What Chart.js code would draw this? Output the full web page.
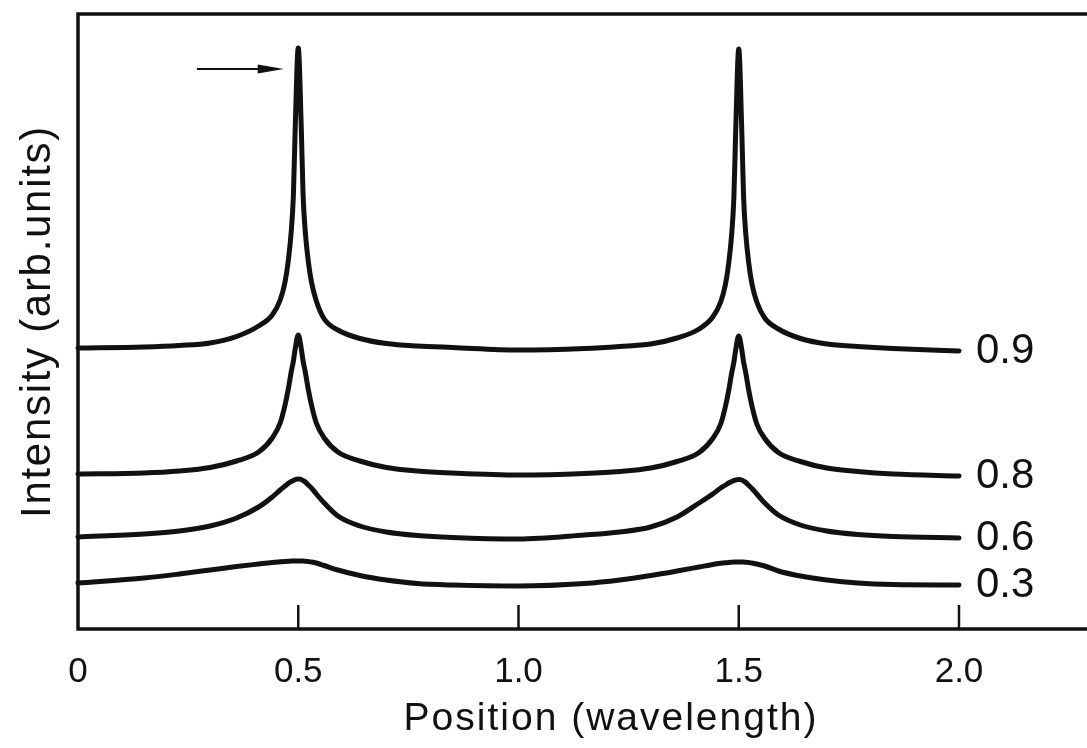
<!DOCTYPE html>
<html>
<head>
<meta charset="utf-8">
<script src="https://cdn.jsdelivr.net/npm/chart.js@4.4.1/dist/chart.umd.min.js"></script>
<style>
  html, body { margin: 0; padding: 0; background: #fff; }
  #chart-1 { display: block; }
</style>
</head>
<body>
<canvas id="chart-1" width="1087" height="748"></canvas>
<script>
// position along the cavity, in wavelengths (dense near the two resonances)
const positions = [
  0, 0.15, 0.23, 0.30, 0.36, 0.41, 0.441, 0.459, 0.47, 0.477, 0.484, 0.489, 0.493,
  0.5,
  0.507, 0.511, 0.516, 0.523, 0.53, 0.541, 0.559, 0.59, 0.64, 0.70, 0.77, 0.85,
  1.0,
  1.15, 1.23, 1.30, 1.36, 1.41, 1.441, 1.459, 1.47, 1.477, 1.484, 1.489, 1.493,
  1.5,
  1.507, 1.511, 1.516, 1.523, 1.53, 1.541, 1.559, 1.59, 1.64, 1.70, 1.77, 1.85,
  2.0
];

// intensity curves, stacked with an offset (arb. units)
const curve09 = [
  2.81, 2.82, 2.835, 2.86, 2.925, 3.03, 3.14, 3.29, 3.47, 3.67, 3.97, 4.34, 4.99,
  5.81,
  4.99, 4.34, 3.97, 3.67, 3.47, 3.28, 3.10, 2.99, 2.905, 2.855, 2.83, 2.815,
  2.79,
  2.805, 2.825, 2.85, 2.91, 3.00, 3.12, 3.27, 3.45, 3.65, 3.95, 4.32, 4.97,
  5.80,
  4.97, 4.32, 3.95, 3.65, 3.45, 3.27, 3.11, 3.00, 2.905, 2.85, 2.825, 2.805,
  2.78
];
const curve08 = [
  1.55, 1.56, 1.58, 1.615, 1.68, 1.77, 1.91, 2.06, 2.24, 2.39, 2.57, 2.68, 2.80,
  2.94,
  2.80, 2.68, 2.57, 2.39, 2.24, 2.06, 1.91, 1.77, 1.68, 1.615, 1.58, 1.56,
  1.54,
  1.555, 1.575, 1.61, 1.675, 1.765, 1.905, 2.05, 2.23, 2.38, 2.56, 2.67, 2.79,
  2.93,
  2.79, 2.67, 2.56, 2.38, 2.23, 2.05, 1.905, 1.765, 1.675, 1.61, 1.575, 1.55,
  1.53
];
const curve06 = [
  0.92, 0.95, 0.98, 1.03, 1.11, 1.22, 1.32, 1.39, 1.43, 1.455, 1.475, 1.485, 1.495,
  1.50,
  1.495, 1.485, 1.47, 1.44, 1.41, 1.35, 1.26, 1.13, 1.03, 0.97, 0.935, 0.915,
  0.90,
  0.94, 0.97, 1.02, 1.12, 1.26, 1.35, 1.41, 1.44, 1.46, 1.475, 1.485, 1.49,
  1.495,
  1.49, 1.48, 1.465, 1.435, 1.405, 1.35, 1.26, 1.14, 1.04, 0.98, 0.945, 0.925,
  0.91
];
const curve03 = [
  0.46, 0.51, 0.55, 0.59, 0.625, 0.65, 0.665, 0.672, 0.676, 0.678, 0.679, 0.68, 0.68,
  0.681,
  0.68, 0.679, 0.677, 0.674, 0.67, 0.66, 0.635, 0.59, 0.535, 0.49, 0.455, 0.44,
  0.43,
  0.455, 0.49, 0.535, 0.58, 0.62, 0.645, 0.657, 0.663, 0.666, 0.668, 0.67, 0.67,
  0.671,
  0.67, 0.669, 0.667, 0.664, 0.66, 0.65, 0.63, 0.58, 0.53, 0.49, 0.46, 0.445,
  0.44
];

const curveLabels = ['0.9', '0.8', '0.6', '0.3'];
const xTicks = [0, 0.5, 1.0, 1.5, 2.0];
const xTickLabels = ['0', '0.5', '1.0', '1.5', '2.0'];

const FONT = '"Liberation Sans", Arial, sans-serif';
const INK = '#111';

function toPoints(values) {
  return values.map((v, i) => ({ x: positions[i], y: v }));
}

// frame, inward ticks, axis texts, curve labels and the marker arrow
const framePlugin = {
  id: 'frame',
  afterDraw(chart) {
    const ctx = chart.ctx;
    const area = chart.chartArea;
    const xs = chart.scales.x;
    const ys = chart.scales.y;

    ctx.save();
    ctx.strokeStyle = INK;
    ctx.fillStyle = INK;
    ctx.lineCap = 'square';

    // box: left, top and bottom edges
    ctx.lineWidth = 3.5;
    ctx.beginPath();
    ctx.moveTo(area.right + 2, area.top);
    ctx.lineTo(area.left, area.top);
    ctx.lineTo(area.left, area.bottom);
    ctx.lineTo(area.right + 2, area.bottom);
    ctx.stroke();

    // tick marks pointing up into the plot
    ctx.lineWidth = 2.5;
    ctx.lineCap = 'butt';
    xTicks.forEach((t) => {
      if (t === 0) return;
      const px = xs.getPixelForValue(t);
      ctx.beginPath();
      ctx.moveTo(px, area.bottom);
      ctx.lineTo(px, area.bottom - 24);
      ctx.stroke();
    });

    // tick labels
    ctx.font = '35px ' + FONT;
    ctx.textAlign = 'center';
    ctx.textBaseline = 'alphabetic';
    xTicks.forEach((t, i) => {
      ctx.fillText(xTickLabels[i], xs.getPixelForValue(t), area.bottom + 53);
    });

    // x title
    ctx.font = '39px ' + FONT;
    ctx.letterSpacing = '2px';
    ctx.fillText('Position (wavelength)', 611, area.bottom + 101);

    // y title
    ctx.save();
    ctx.translate(50, (area.top + area.bottom) / 2);
    ctx.rotate(-Math.PI / 2);
    ctx.font = '42px ' + FONT;
    ctx.letterSpacing = '1.7px';
    ctx.textAlign = 'center';
    ctx.fillText('Intensity (arb.units)', 0, 0);
    ctx.restore();
    ctx.letterSpacing = '0px';

    // reflectivity label at the end of each curve
    ctx.font = '42px ' + FONT;
    ctx.textAlign = 'left';
    ctx.textBaseline = 'middle';
    chart.data.datasets.forEach((ds, i) => {
      const last = ds.data[ds.data.length - 1];
      const px = xs.getPixelForValue(last.x);
      const py = ys.getPixelForValue(last.y);
      ctx.fillText(curveLabels[i], px + 17, py);
    });

    // arrow pointing at the first 0.9 resonance
    const ax0 = xs.getPixelForValue(0.27);
    const ax1 = xs.getPixelForValue(0.467);
    const ay = ys.getPixelForValue(5.60);
    ctx.lineWidth = 2;
    ctx.beginPath();
    ctx.moveTo(ax0, ay);
    ctx.lineTo(ax1 - 20, ay);
    ctx.stroke();
    ctx.beginPath();
    ctx.moveTo(ax1, ay);
    ctx.lineTo(ax1 - 26, ay - 4.5);
    ctx.lineTo(ax1 - 26, ay + 4.5);
    ctx.closePath();
    ctx.fill();

    ctx.restore();
  }
};

function chartInit() {
  const ctx = document.getElementById('chart-1').getContext('2d');

  const lineStyle = {
    borderColor: INK,
    borderWidth: 5,
    pointRadius: 0,
    fill: false,
    cubicInterpolationMode: 'monotone',
    borderJoinStyle: 'round',
    borderCapStyle: 'round',
    clip: false,
  };

  const data = {
    datasets: [
      { ...lineStyle, label: curveLabels[0], data: toPoints(curve09) },
      { ...lineStyle, label: curveLabels[1], data: toPoints(curve08) },
      { ...lineStyle, label: curveLabels[2], data: toPoints(curve06) },
      { ...lineStyle, label: curveLabels[3], data: toPoints(curve03) },
    ]
  };

  const options = {
    responsive: false,
    animation: false,
    devicePixelRatio: 1,
    layout: {
      padding: { left: 78, top: 14, right: 0, bottom: 119 }
    },
    scales: {
      x: { type: 'linear', min: 0, max: 2.2906, display: false },
      y: { type: 'linear', min: 0, max: 6.15, display: false },
    },
    plugins: {
      legend: { display: false },
      tooltip: { enabled: false },
    },
  };

  new Chart(ctx, {
    type: 'line',
    data: data,
    options: options,
    plugins: [framePlugin],
  });
}

chartInit();
</script>
</body>
</html>
